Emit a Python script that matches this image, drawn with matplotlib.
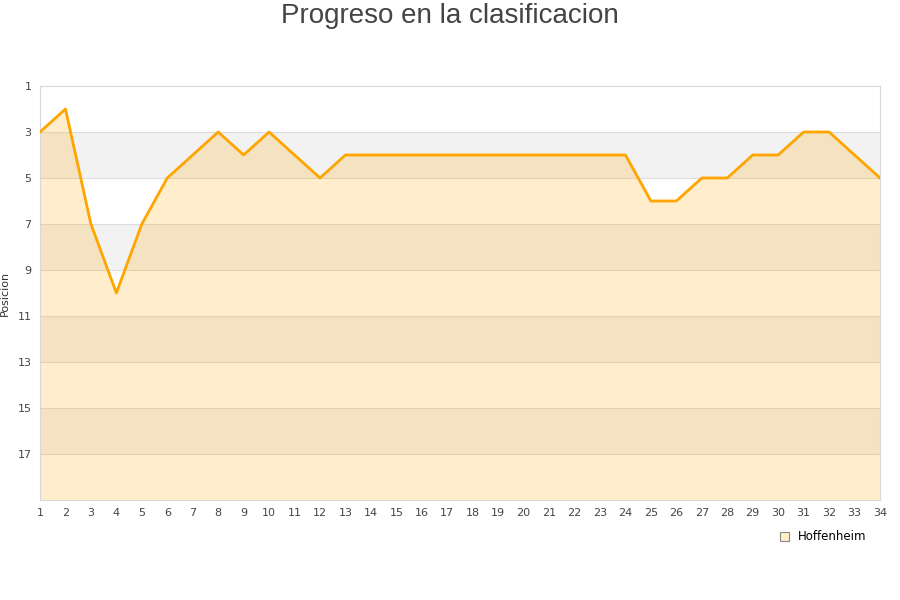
import numpy as np
import matplotlib
matplotlib.use("Agg")
import matplotlib.pyplot as plt
from matplotlib.patches import Patch

# --- data ---
jornadas = list(range(1, 35))
posiciones = [3, 2, 7, 10, 7, 5, 4, 3, 4, 3, 4, 5, 4, 4, 4, 4, 4, 4, 4, 4,
              4, 4, 4, 4, 6, 6, 5, 5, 4, 4, 3, 3, 4, 5]
equipo = "Hoffenheim"
y_ticks = [1, 3, 5, 7, 9, 11, 13, 15, 17]

fig = plt.figure(figsize=(9, 6), dpi=100)
ax = fig.add_axes([40 / 900, 100 / 600, 840 / 900, 414 / 600])

# alternating bands
for lo in range(3, 19, 4):
    ax.axhspan(lo, lo + 2, color="#f2f2f2", zorder=0, lw=0)
for t in y_ticks[1:]:
    ax.axhline(t, color="#dddddd", lw=0.8, zorder=1)

ax.fill_between(jornadas, posiciones, 19, color="#ffa500", alpha=0.2, lw=0, zorder=2)
ax.plot(jornadas, posiciones, color="#ffa500", lw=2.0, zorder=3)

ax.set_xlim(1, 34)
ax.set_ylim(19, 1)
ax.set_xticks(jornadas)
ax.set_yticks(y_ticks)
ax.tick_params(length=0, labelsize=8, colors="#444444", pad=6)
for s in ax.spines.values():
    s.set_color("#d8d8d8")
ax.set_ylabel("Posicion", fontsize=8, color="#333333")
ax.yaxis.set_label_coords(-30 / 840, 0.5)

fig.suptitle("Progreso en la clasificacion", x=0.5, y=0.995, fontsize=20,
             family=["Liberation Sans", "DejaVu Sans"], color="#444444")

handle = Patch(facecolor="#ffedcc", edgecolor="#888888", lw=0.8)
fig.legend([handle], [equipo], loc="center", bbox_to_anchor=(0.915, 0.105),
           frameon=False, fontsize=8.5, handlelength=0.7, handleheight=0.7,
           handletextpad=0.8)

fig.savefig("out.png", dpi=100)
